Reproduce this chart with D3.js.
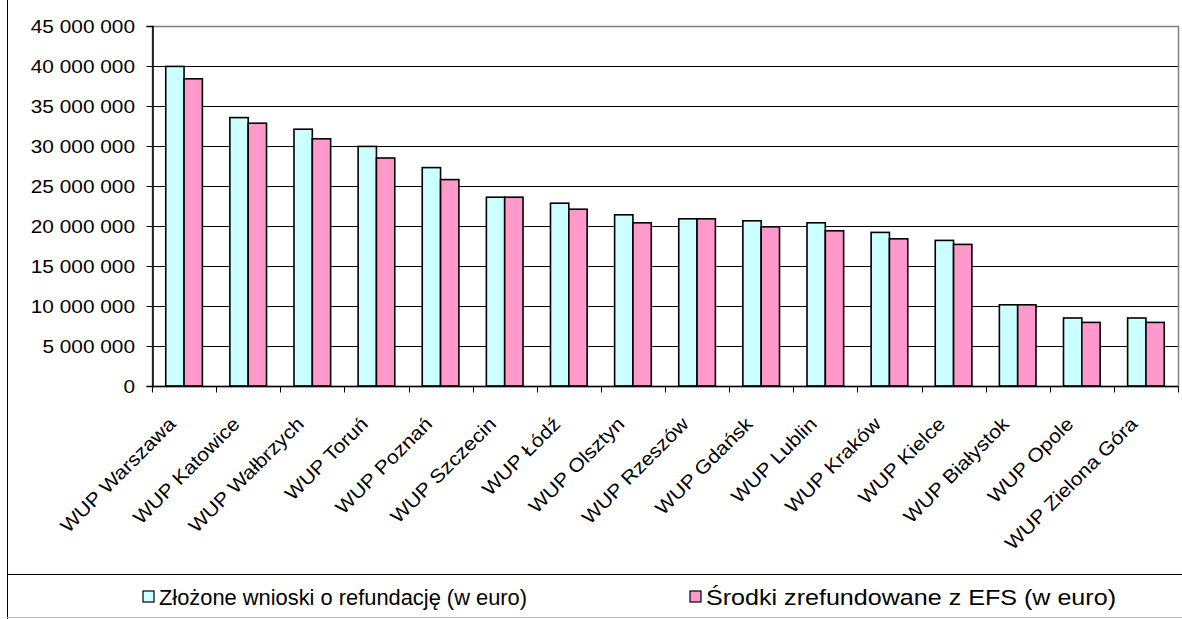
<!DOCTYPE html>
<html>
<head>
<meta charset="utf-8">
<script src="https://cdn.jsdelivr.net/npm/d3@7"></script>
<style>
  body { margin: 0; background: #fff; }
  text { font-family: "Liberation Sans", Arial, sans-serif; fill: #000; }
</style>
</head>
<body>
<script>
var categories = ["WUP Warszawa", "WUP Katowice", "WUP Wałbrzych", "WUP Toruń", "WUP Poznań",
    "WUP Szczecin", "WUP Łódź", "WUP Olsztyn", "WUP Rzeszów", "WUP Gdańsk", "WUP Lublin",
    "WUP Kraków", "WUP Kielce", "WUP Białystok", "WUP Opole", "WUP Zielona Góra"];
var submitted = [39950000, 33550000, 32100000, 29950000, 27300000, 23600000, 22850000, 21400000,
    20900000, 20650000, 20400000, 19200000, 18200000, 10150000, 8500000, 8500000];
var refunded = [38400000, 32850000, 30900000, 28500000, 25800000, 23600000, 22100000, 20400000,
    20900000, 19900000, 19400000, 18400000, 17700000, 10150000, 7950000, 7950000];
var seriesNames = ["Złożone wnioski o refundację (w euro)", "Środki zrefundowane z EFS (w euro)"];
var seriesColors = ["#CCFFFF", "#FF99CC"];
var yTicks = [0, 5000000, 10000000, 15000000, 20000000, 25000000, 30000000, 35000000, 40000000, 45000000];

var width = 1182, height = 619;
var plot = { left: 152, right: 1178, top: 26, bottom: 386 };
var stretch = 1.12;   // the original text is a bit wider than Arial

var svg = d3.select('body').append('svg')
    .attr('width', width)
    .attr('height', height);

var x0 = d3.scaleBand().domain(d3.range(categories.length)).range([plot.left, plot.right]);
var gap = x0.bandwidth() * 1.5 / 3.5;
var x1 = d3.scaleBand().domain([0, 1]).range([gap / 2, x0.bandwidth() - gap / 2]);
var y = d3.scaleLinear().domain([0, 45000000]).range([plot.bottom, plot.top]);

var fmt = d3.formatLocale({ decimal: ",", thousands: "\u00a0", grouping: [3], currency: ["", ""] }).format(",d");

// outer frame
svg.append('line').attr('x1', 7.5).attr('x2', 7.5).attr('y1', 0).attr('y2', height).attr('stroke', '#000');
svg.append('line').attr('x1', 7).attr('x2', width).attr('y1', 574.5).attr('y2', 574.5).attr('stroke', '#000');
svg.append('line').attr('x1', 7).attr('x2', width).attr('y1', 617.5).attr('y2', 617.5).attr('stroke', '#bbb');

// gridlines
svg.append('g').selectAll('line')
    .data(yTicks.filter(function (d) { return d > 0 && d < 45000000; }))
    .enter().append('line')
        .attr('x1', plot.left).attr('x2', plot.right)
        .attr('y1', function (d) { return Math.round(y(d)) + 0.5; })
        .attr('y2', function (d) { return Math.round(y(d)) + 0.5; })
        .attr('stroke', '#000')
        .attr('stroke-width', 1);

// plot border
svg.append('rect')
    .attr('x', plot.left + 0.5).attr('y', plot.top + 0.5)
    .attr('width', plot.right - plot.left).attr('height', plot.bottom - plot.top)
    .attr('fill', 'none').attr('stroke', '#808080').attr('stroke-width', 1.5);

// bars
var groups = svg.append('g').selectAll('g')
    .data(categories)
    .enter().append('g')
        .attr('transform', function (d, i) { return 'translate(' + x0(i) + ',0)'; });

groups.selectAll('rect')
    .data(function (d, i) { return [submitted[i], refunded[i]]; })
    .enter().append('rect')
        .attr('x', function (d, j) { return x1(j); })
        .attr('y', function (d) { return y(d); })
        .attr('width', x1.bandwidth())
        .attr('height', function (d) { return y(0) - y(d); })
        .attr('fill', function (d, j) { return seriesColors[j]; })
        .attr('stroke', '#000')
        .attr('stroke-width', 1.6);

// y axis
var yAxis = svg.append('g').attr('transform', 'translate(' + (plot.left + 0.5) + ',0)')
    .call(d3.axisLeft(y).tickValues(yTicks).tickSize(6).tickFormat(''));
yAxis.select('.domain').attr('stroke', '#000').attr('stroke-width', 1.5);
yAxis.selectAll('.tick line').attr('stroke', '#000');

svg.append('g').selectAll('text')
    .data(yTicks)
    .enter().append('text')
        .attr('transform', function (d) { return 'translate(135,' + y(d) + ') scale(' + stretch + ',1)'; })
        .attr('text-anchor', 'end')
        .attr('dy', '0.36em')
        .style('font-size', '18.6px')
        .text(fmt);

// x axis
var xAxis = svg.append('g').attr('transform', 'translate(0,' + (plot.bottom + 0.5) + ')');
xAxis.append('line').attr('x1', plot.left).attr('x2', plot.right).attr('stroke', '#000').attr('stroke-width', 1.5);
xAxis.selectAll('.tk')
    .data(d3.range(categories.length + 1))
    .enter().append('line')
        .attr('class', 'tk')
        .attr('x1', function (d) { return Math.round(plot.left + d * x0.step()) + 0.5; })
        .attr('x2', function (d) { return Math.round(plot.left + d * x0.step()) + 0.5; })
        .attr('y1', 0).attr('y2', 6)
        .attr('stroke', '#000');

xAxis.selectAll('.lbl')
    .data(categories)
    .enter().append('text')
        .attr('class', 'lbl')
        .attr('transform', function (d, i) {
            return 'translate(' + (x0(i) + x0.bandwidth() / 2 - 12) + ',34) rotate(-45) scale(' + stretch + ',1)';
        })
        .attr('text-anchor', 'end')
        .attr('dy', '0.35em')
        .style('font-size', '19px')
        .text(function (d) { return d; });

// legend
var legendX = [143, 690];
var legendLen = [368, 410];
var legend = svg.append('g').selectAll('g')
    .data(seriesNames)
    .enter().append('g')
        .attr('transform', function (d, i) { return 'translate(' + legendX[i] + ',597)'; });
legend.append('rect')
    .attr('x', 0).attr('y', -6).attr('width', 11).attr('height', 11)
    .attr('fill', function (d, i) { return seriesColors[i]; })
    .attr('stroke', '#000').attr('stroke-width', 1.2);
legend.append('text')
    .attr('x', 16)
    .attr('dy', '0.35em')
    .attr('textLength', function (d, i) { return legendLen[i]; })
    .attr('lengthAdjust', 'spacingAndGlyphs')
    .style('font-size', '22px')
    .text(function (d) { return d; });
</script>
</body>
</html>
